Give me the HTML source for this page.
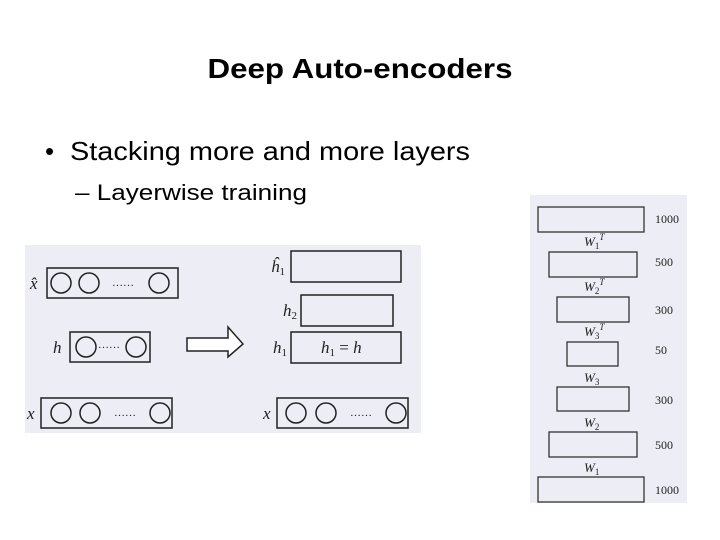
<!DOCTYPE html>
<html><head><meta charset="utf-8"><style>
html,body{margin:0;padding:0;background:#fff;}
svg{display:block;}
</style></head><body>
<svg width="720" height="540" viewBox="0 0 720 540" xmlns="http://www.w3.org/2000/svg" font-family="Liberation Sans, sans-serif">
<rect width="720" height="540" fill="#fff"/>
<text x="360" y="78" text-anchor="middle" font-size="28" font-weight="bold" textLength="305" lengthAdjust="spacingAndGlyphs">Deep Auto-encoders</text>
<text x="45" y="160" font-size="26">•</text>
<text x="70" y="160" font-size="26" textLength="400" lengthAdjust="spacingAndGlyphs">Stacking more and more layers</text>
<text x="75" y="200" font-size="22" textLength="232" lengthAdjust="spacingAndGlyphs">– Layerwise training</text>

<rect x="25" y="245" width="396" height="188" fill="#ecedf5"/>
<g fill="none" stroke="#222" stroke-width="1.5">
<rect x="47" y="268" width="131" height="30"/>
<circle cx="61" cy="283" r="10"/><circle cx="89" cy="283" r="10"/><circle cx="159" cy="283" r="10"/>
<rect x="70" y="332" width="80" height="30"/>
<circle cx="86" cy="347" r="10"/><circle cx="136" cy="347" r="10"/>
<rect x="41" y="398" width="131" height="30"/>
<circle cx="61" cy="413" r="10"/><circle cx="90" cy="413" r="10"/><circle cx="160" cy="413" r="10"/>
<polygon points="187,338 228,338 228,327 243,344 228,357 228,351 187,351" fill="#fff"/>
<rect x="291" y="251" width="110" height="31"/>
<rect x="301" y="295" width="92" height="31"/>
<rect x="291" y="332" width="110" height="31"/>
<rect x="277" y="398" width="131" height="30"/>
<circle cx="296" cy="413" r="10"/><circle cx="326" cy="413" r="10"/><circle cx="396" cy="413" r="10"/>
</g>
<g font-family="Liberation Serif, serif" font-style="italic" font-size="17" fill="#222">
<text x="30" y="289">x̂</text>
<text x="112" y="286" font-style="normal" font-size="11">……</text>
<text x="53" y="353">h</text>
<text x="98" y="348" font-style="normal" font-size="11">……</text>
<text x="27" y="419">x</text>
<text x="114" y="416" font-style="normal" font-size="11">……</text>
<text x="271" y="272">ĥ<tspan font-size="11" dy="3" font-style="normal">1</tspan></text>
<text x="283" y="316">h<tspan font-size="11" dy="3" font-style="normal">2</tspan></text>
<text x="273" y="353">h<tspan font-size="11" dy="3" font-style="normal">1</tspan></text>
<text x="321" y="353">h<tspan font-size="11" dy="3" font-style="normal">1</tspan><tspan dy="-3" font-style="normal"> = </tspan>h</text>
<text x="263" y="419">x</text>
<text x="350" y="416" font-style="normal" font-size="11">……</text>
</g>

<rect x="530" y="195" width="157" height="308" fill="#ecedf5"/>
<g fill="none" stroke="#333" stroke-width="1.3">
<rect x="538" y="207" width="106" height="25"/>
<rect x="549" y="252" width="88" height="25"/>
<rect x="557" y="297" width="72" height="25"/>
<rect x="567" y="342" width="51" height="24"/>
<rect x="557" y="387" width="72" height="24"/>
<rect x="549" y="432" width="88" height="25"/>
<rect x="538" y="477" width="106" height="25"/>
</g>
<g font-family="Liberation Serif, serif" font-size="12" fill="#222">
<text x="655" y="223">1000</text>
<text x="655" y="266">500</text>
<text x="655" y="314">300</text>
<text x="655" y="354">50</text>
<text x="655" y="404">300</text>
<text x="655" y="449">500</text>
<text x="655" y="494">1000</text>
<g font-style="italic" font-size="13">
<text x="584" y="246">W<tspan font-size="9" dy="3" font-style="normal">1</tspan><tspan font-size="9" dy="-9">T</tspan></text>
<text x="584" y="291">W<tspan font-size="9" dy="3" font-style="normal">2</tspan><tspan font-size="9" dy="-9">T</tspan></text>
<text x="584" y="336">W<tspan font-size="9" dy="3" font-style="normal">3</tspan><tspan font-size="9" dy="-9">T</tspan></text>
<text x="584" y="382">W<tspan font-size="9" dy="3" font-style="normal">3</tspan></text>
<text x="584" y="427">W<tspan font-size="9" dy="3" font-style="normal">2</tspan></text>
<text x="584" y="472">W<tspan font-size="9" dy="3" font-style="normal">1</tspan></text>
</g>
</g>
</svg>
</body></html>
